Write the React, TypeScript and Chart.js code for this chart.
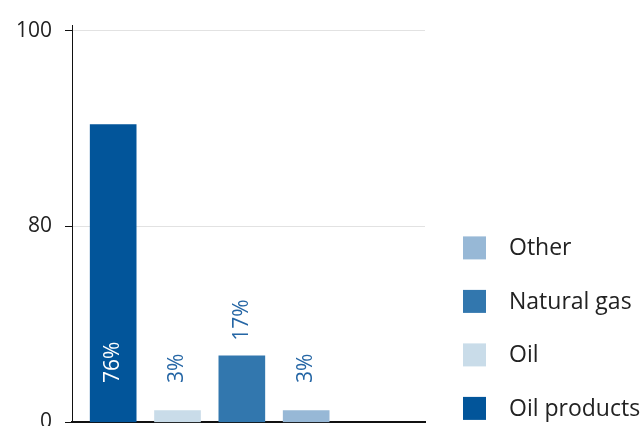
import React, { useEffect, useRef } from "react";
import { Chart, registerables } from "chart.js";

Chart.register(...registerables);

const seriesNames = ["Oil products", "Oil", "Natural gas", "Other"];
const seriesValues = [76, 3, 17, 3];
const seriesLabels = ["76%", "3%", "17%", "3%"];
const seriesColors = ["#02559a", "#c9dce9", "#3277ae", "#97b8d6"];
const yTickValues = [0, 50, 100];
const yTickLabels = ["0", "80", "100"];

const FONT = "'Open Sans', sans-serif";
const LABEL_BLUE = "#2566a5";

const barLabelPlugin = {
  id: "barLabels",
  afterDatasetsDraw(chart: any) {
    const ctx = chart.ctx;
    ctx.save();
    ctx.font = `21px ${FONT}`;
    ctx.textBaseline = "middle";
    ctx.textAlign = "left";
    chart.data.datasets.forEach((ds: any, i: number) => {
      const meta = chart.getDatasetMeta(i);
      const el = meta.data[0];
      if (!el) return;
      const text = seriesLabels[i];
      const w = ctx.measureText(text).width;
      const base = el.base;
      const top = el.y;
      const fixedStart = base - 39;
      let start: number;
      let color: string;
      if (base - top > 39 + w + 20) {
        start = fixedStart;
        color = "#ffffff";
      } else {
        start = Math.min(fixedStart, top - 15);
        color = LABEL_BLUE;
      }
      ctx.save();
      ctx.translate(el.x, start);
      ctx.rotate(-Math.PI / 2);
      ctx.fillStyle = color;
      ctx.fillText(text, 0, 0);
      ctx.restore();
    });
    ctx.restore();
  },
};

const legendPlugin = {
  id: "customLegend",
  afterDraw(chart: any) {
    const ctx = chart.ctx;
    const area = chart.chartArea;
    const n = chart.data.datasets.length;
    const boxX = area.right + 38;
    const size = 23;
    const step = 53.5;
    const lastCenter = area.bottom - 14;
    ctx.save();
    ctx.font = `23px ${FONT}`;
    ctx.textBaseline = "middle";
    ctx.textAlign = "left";
    for (let k = 0; k < n; k++) {
      const i = n - 1 - k;
      const ds = chart.data.datasets[i];
      const cy = lastCenter - (n - 1 - k) * step;
      ctx.fillStyle = ds.backgroundColor;
      ctx.fillRect(boxX, cy - size / 2, size, size);
      ctx.fillStyle = "#222";
      ctx.fillText(ds.label, boxX + 46, cy + 1);
    }
    ctx.restore();
  },
};

export default function App() {
  const ref = useRef<HTMLCanvasElement>(null);
  useEffect(() => {
    if (!ref.current) return;
    const chart = new Chart(ref.current, {
      type: "bar",
      data: {
        datasets: seriesNames.map((name, i) => ({
          label: name,
          data: [{ x: i, y: seriesValues[i] }],
          backgroundColor: seriesColors[i],
          borderWidth: 0,
          grouped: false,
          barThickness: 46,
        })),
      },
      options: {
        animation: false,
        responsive: false,
        layout: { padding: { top: 22, right: 218, left: 0, bottom: 0 } },
        plugins: { legend: { display: false }, tooltip: { enabled: false } },
        scales: {
          x: {
            type: "linear",
            offset: false,
            min: -0.64,
            max: 4.847,
            grid: { display: false },
            ticks: { display: false },
            border: { display: true, color: "#111", width: 2 },
            afterFit: (s: any) => {
              s.height = 18;
            },
          },
          y: {
            min: 0,
            max: 101.27,
            afterBuildTicks: (s: any) => {
              s.ticks = yTickValues.map((v) => ({ value: v }));
            },
            ticks: {
              padding: 13,
              color: "#222",
              font: { family: FONT, size: 21 },
              callback: (v: any) => {
                const idx = yTickValues.indexOf(Number(v));
                return idx >= 0 ? yTickLabels[idx] : "";
              },
            },
            grid: { color: "#e2e2e2", tickColor: "#111", tickLength: 7, lineWidth: 1 },
            border: { display: true, color: "#111", width: 1 },
            afterFit: (s: any) => {
              s.width = 72;
            },
          },
        },
      },
      plugins: [barLabelPlugin, legendPlugin],
    } as any);
    return () => chart.destroy();
  }, []);
  return (
    <div style={{ position: "fixed", left: 0, top: 0, width: 643, height: 448 }}>
      <canvas ref={ref} width={643} height={448} style={{ display: "block" }} />
    </div>
  );
}
